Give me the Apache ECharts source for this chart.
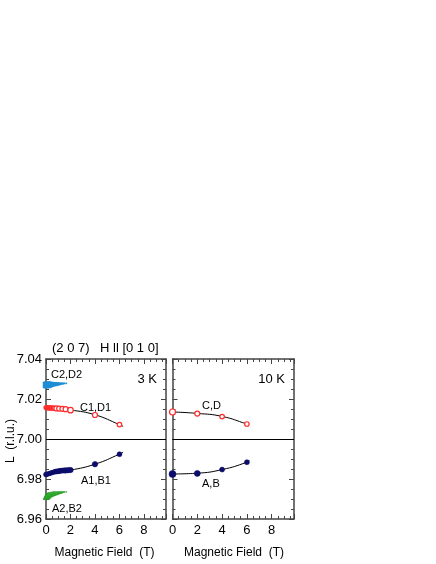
<!DOCTYPE html>
<html><head><meta charset="utf-8">
<script src="https://cdn.jsdelivr.net/npm/echarts@6/dist/echarts.min.js"></script>
<style>html,body{margin:0;padding:0;background:#fff}#c{width:436px;height:564px}</style>
</head><body><div id="c"></div>
<script>
// ---------- data ----------
const xTicks = [0, 2, 4, 6, 8];
const yTicks = [6.96, 6.98, 7.00, 7.02, 7.04];

// 3 K panel
const c2Field = [0, 0.05, 0.1, 0.15, 0.2, 0.25, 0.3, 0.35, 0.4, 0.5, 0.6, 0.7, 0.8, 0.9, 1.0, 1.1, 1.2, 1.3, 1.4, 1.5, 1.65];
const c2L     = [7.0270, 7.0270, 7.0271, 7.0271, 7.0271, 7.0272, 7.0272, 7.0272, 7.0273, 7.0273, 7.0273, 7.0274, 7.0274, 7.0275, 7.0275, 7.0276, 7.0276, 7.0277, 7.0277, 7.0278, 7.0278];
const c2Size  = [6, 6, 6, 5.5, 5.5, 5, 5, 4.5, 4.5, 4, 3.5, 3.5, 3, 3, 2.5, 2, 2, 1.5, 1.5, 1.2, 1.2];

const c1Field = [0, 0.05, 0.1, 0.15, 0.2, 0.25, 0.3, 0.35, 0.4, 0.45, 0.5, 0.55, 0.6, 0.7, 0.85, 1.08, 1.34, 1.6, 2.0, 4.0, 6.0];
const c1L     = [7.0157, 7.0157, 7.0157, 7.0156, 7.0156, 7.0156, 7.0156, 7.0155, 7.0155, 7.0155, 7.0155, 7.0154, 7.0154, 7.0154, 7.0153, 7.0152, 7.0151, 7.0149, 7.0144, 7.0120, 7.0072];
const c1Size  = [4, 4, 4, 4, 4, 4, 4, 4, 4, 4, 4, 4, 4, 4, 5, 5, 5, 5, 5.5, 5, 4.5];
const c1FitX  = [0, 2, 4, 6, 6.3];
const c1FitL  = [7.0158, 7.0145, 7.0121, 7.0072, 7.0063];

const a1Field = [0, 0.1, 0.2, 0.3, 0.4, 0.5, 0.6, 0.7, 0.8, 0.9, 1.0, 1.1, 1.2, 1.3, 1.4, 1.5, 1.6, 1.8, 2.0, 4.0, 6.0];
const a1L     = [6.9823, 6.9824, 6.9826, 6.9828, 6.9830, 6.9832, 6.9834, 6.9836, 6.9837, 6.9838, 6.9839, 6.9840, 6.9841, 6.9842, 6.9842, 6.9843, 6.9843, 6.9844, 6.9845, 6.9874, 6.9924];
const a1Size  = [5, 4.5, 4.5, 4.5, 4.5, 4.5, 4.5, 4.5, 5, 5, 5, 5, 5, 5, 5, 5, 5.5, 5.5, 5.5, 5.5, 5];
const a1FitX  = [0, 2, 4, 6, 6.3];
const a1FitL  = [6.9823, 6.9844, 6.9874, 6.9924, 6.9934];

const a2Field = [0, 0.05, 0.1, 0.15, 0.2, 0.3, 0.4, 0.5, 0.6, 0.7, 0.8, 0.9, 1.0, 1.1, 1.2, 1.3, 1.4, 1.5, 1.65];
const a2L     = [6.9712, 6.9714, 6.9716, 6.9718, 6.9720, 6.9722, 6.9724, 6.9726, 6.9728, 6.9729, 6.9730, 6.9731, 6.9732, 6.9733, 6.9734, 6.9735, 6.9736, 6.9736, 6.9737];
const a2Size  = [6, 6, 6, 5.5, 5.5, 5, 5, 4.5, 4.5, 4, 3.5, 3.5, 3, 2.5, 2.5, 2, 1.5, 1.2, 1.2];

// 10 K panel
const cField = [0, 2, 4, 6];
const cL     = [7.0135, 7.0127, 7.0112, 7.0075];
const cSize  = [6, 5, 4.5, 4.5];
const cFitX  = [0, 2, 4, 6, 6.1];
const cFitL  = [7.0135, 7.0128, 7.0113, 7.0075, 7.0072];

const aField = [0, 2, 4, 6];
const aL     = [6.9825, 6.9828, 6.9847, 6.9884];
const aSize  = [7, 6, 5, 5];
const aFitX  = [0, 2, 4, 6, 6.2];
const aFitL  = [6.9825, 6.9829, 6.9847, 6.9884, 6.9895];

// ---------- chart ----------
const FONT = "'Liberation Sans', Arial, Helvetica, sans-serif";
const AX = '#444';
const zip = (xs, ys, sz) => xs.map((x, i) => sz ? {value: [x, ys[i]], symbolSize: sz[i]} : [x, ys[i]]);

function xAx(grid, pos, labels) {
  return {
    type: 'value', gridIndex: grid, position: pos, min: 0, max: 9.8, interval: 2,
    axisLine: {show: true, onZero: false, lineStyle: {color: AX, width: 1.5}},
    axisTick: {show: true, inside: true, length: 5, lineStyle: {color: AX, width: 1}},
    minorTick: {show: true, splitNumber: 4, length: 3, lineStyle: {color: AX, width: 1}},
    splitLine: {show: false}, minorSplitLine: {show: false},
    axisLabel: {show: labels, margin: 5, color: '#000', fontSize: 13, fontFamily: FONT, showMaxLabel: false,
                formatter: v => xTicks.includes(v) ? String(v) : ''}
  };
}
function yAx(grid, pos, labels) {
  return {
    type: 'value', gridIndex: grid, position: pos, min: 6.96, max: 7.04, interval: 0.02,
    axisLine: {show: true, onZero: false, lineStyle: {color: AX, width: 1.5}},
    axisTick: {show: true, inside: true, length: 5, lineStyle: {color: AX, width: 1}},
    minorTick: {show: true, splitNumber: 4, length: 3, lineStyle: {color: AX, width: 1}},
    splitLine: {show: false}, minorSplitLine: {show: false},
    axisLabel: {show: labels, margin: 4, color: '#000', fontSize: 13, fontFamily: FONT,
                formatter: v => {
                  const t = yTicks.find(k => Math.abs(k - v) < 1e-6);
                  return t !== undefined ? t.toFixed(2) : '';
                }}
  };
}

function scatter(xi, yi, xs, ys, sz, symbol, color, filled, border) {
  return {
    type: 'scatter', xAxisIndex: xi, yAxisIndex: yi, clip: false, symbol: symbol,
    data: zip(xs, ys, sz), z: 5,
    itemStyle: filled ? {color: color, borderColor: border || color, borderWidth: 0.5, opacity: 1}
                      : {color: '#fff', borderColor: color, borderWidth: 1.2, opacity: 1}
  };
}
function fit(xi, yi, xs, ys) {
  return {
    type: 'line', xAxisIndex: xi, yAxisIndex: yi, smooth: 0.5, symbol: 'none', z: 3,
    lineStyle: {color: '#000', width: 1}, data: zip(xs, ys)
  };
}
function zeroLine(xi, yi) {
  return {
    type: 'line', xAxisIndex: xi, yAxisIndex: yi, data: [], symbol: 'none',
    markLine: {silent: true, symbol: 'none', label: {show: false},
               lineStyle: {color: '#000', width: 1, type: 'solid'}, data: [{yAxis: 7.0}]}
  };
}

function txt(x, y, s, size, align) {
  return {type: 'text', x: x, y: y, style: {text: s, fontSize: size, fontFamily: FONT, fill: '#000',
          align: align || 'left', verticalAlign: 'middle'}};
}

const chart = echarts.init(document.getElementById('c'), null, {renderer: 'canvas'});
chart.setOption({
  animation: false,
  backgroundColor: '#fff',
  grid: [
    {left: 46, top: 359, width: 120, height: 160},
    {left: 172.5, top: 359, width: 121.5, height: 160}
  ],
  xAxis: [xAx(0, 'bottom', true), xAx(0, 'top', false), xAx(1, 'bottom', true), xAx(1, 'top', false)],
  yAxis: [yAx(0, 'left', true), yAx(0, 'right', false), yAx(1, 'left', false), yAx(1, 'right', false)],
  series: [
    zeroLine(0, 0), zeroLine(2, 2),
    fit(0, 0, c1FitX, c1FitL), fit(0, 0, a1FitX, a1FitL),
    fit(2, 2, cFitX, cFitL), fit(2, 2, aFitX, aFitL),
    scatter(0, 0, c2Field, c2L, c2Size, 'rect', '#1f8fd6', true),
    scatter(0, 0, c1Field, c1L, c1Size, 'circle', '#ff2a2a', false),
    scatter(0, 0, a1Field, a1L, a1Size, 'circle', '#0c0c6a', true),
    scatter(0, 0, a2Field, a2L, a2Size, 'triangle', '#3cc03c', true, '#1f8f1f'),
    scatter(2, 2, cField, cL, cSize, 'circle', '#ff2a2a', false),
    scatter(2, 2, aField, aL, aSize, 'circle', '#0c0c6a', true)
  ],
  graphic: [
    txt(52, 348, '(2 0 7)', 13),
    txt(100, 348, 'H ll [0 1 0]', 13),
    txt(157, 379, '3 K', 13, 'right'),
    txt(285, 379, '10 K', 13, 'right'),
    txt(51, 375, 'C2,D2', 11),
    txt(80, 407.5, 'C1,D1', 11),
    txt(81, 480.5, 'A1,B1', 11),
    txt(52, 508.5, 'A2,B2', 11),
    txt(202, 406, 'C,D', 11),
    txt(202, 484, 'A,B', 11),
    txt(104.5, 553, 'Magnetic Field  (T)', 12, 'center'),
    txt(234, 553, 'Magnetic Field  (T)', 12, 'center'),
    {type: 'text', x: 11, y: 441, rotation: Math.PI / 2,
     style: {text: 'L  (r.l.u.)', fontSize: 12, fontFamily: FONT, fill: '#000', align: 'center', verticalAlign: 'middle'}}
  ]
});
</script>
</body></html>
